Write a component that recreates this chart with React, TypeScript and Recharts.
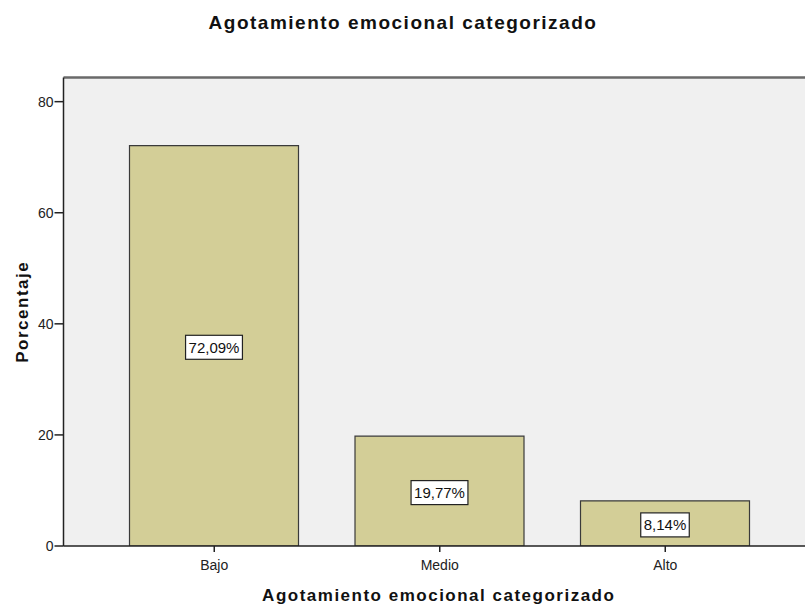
import React from 'react';
import { BarChart, Bar, XAxis, YAxis, CartesianGrid, LabelList, ReferenceLine } from 'recharts';

const chartTitle = 'Agotamiento emocional categorizado';
const xTitle = 'Agotamiento emocional categorizado';
const yTitle = 'Porcentaje';
const categories = ['Bajo', 'Medio', 'Alto'];
const percentages = [72.09, 19.77, 8.14];
const percentLabels = ['72,09%', '19,77%', '8,14%'];
const yTicks = [0, 20, 40, 60, 80];
const yMax = 84.35;

const data = categories.map((c, i) => ({ category: c, value: percentages[i], label: percentLabels[i] }));

const FONT = "Arial, 'Liberation Sans', sans-serif";

const charW = (ch: string) => {
  if (ch === ',') return 0.278;
  if (ch === '%') return 0.889;
  return 0.556;
};

const DataLabel = (props: any) => {
  const { x, y, width, height, value } = props;
  const cx = Number(x) + Number(width) / 2;
  const cy = Number(y) + Number(height) / 2 + 1.5;
  const fs = 15;
  const tw = String(value).split('').reduce((s, ch) => s + charW(ch) * fs, 0);
  const bw = tw + 6;
  const bh = 24;
  return (
    <g>
      <rect x={cx - bw / 2} y={cy - bh / 2} width={bw} height={bh} fill="#ffffff" stroke="#222" strokeWidth={1.2} />
      <text x={cx} y={cy + 5.5} textAnchor="middle" fontFamily={FONT} fontSize={fs} fill="#111">
        {value}
      </text>
    </g>
  );
};

const XTick = (props: any) => {
  const { x, y, payload } = props;
  return (
    <text x={x} y={y} dy={16} textAnchor="middle" fontFamily={FONT} fontSize={14} fill="#222">
      {payload.value}
    </text>
  );
};

const XLabel = (props: any) => {
  const vb = props.viewBox || { x: 63.5, width: 750.5, y: 546 };
  const cx = vb.x + vb.width / 2;
  return (
    <text x={cx} y={601} textAnchor="middle" fontFamily={FONT} fontSize={17} fontWeight="bold" letterSpacing={1.5} fill="#111">
      {xTitle}
    </text>
  );
};

const YLabel = (props: any) => {
  const vb = props.viewBox || { y: 77.5, height: 468.5 };
  const cy = vb.y + vb.height / 2;
  const bx = 28;
  return (
    <text x={bx} y={cy} transform={`rotate(-90, ${bx}, ${cy})`} textAnchor="middle" fontFamily={FONT} fontSize={17} fontWeight="bold" letterSpacing={1.5} fill="#111">
      {yTitle}
    </text>
  );
};

export default function App() {
  return (
    <div style={{ position: 'absolute', left: 0, top: 0, width: 805, height: 607, overflow: 'hidden', background: '#ffffff' }}>
      <div
        style={{
          position: 'absolute',
          left: 0,
          top: 13,
          width: 806,
          textAlign: 'center',
          fontFamily: FONT,
          fontSize: 19,
          lineHeight: '19px',
          fontWeight: 'bold',
          letterSpacing: 1.5,
          color: '#111',
        }}
      >
        {chartTitle}
      </div>
      <BarChart
        width={830}
        height={607}
        data={data}
        margin={{ top: 77.5, right: 16, bottom: 0, left: 0 }}
      >
        <CartesianGrid fill="#F0F0F0" stroke="none" horizontal={false} vertical={false} />
        <XAxis
          dataKey="category"
          height={61}
          padding={{ left: 38, right: 36 }}
          tickSize={6}
          tick={<XTick />}
          axisLine={{ stroke: '#222', strokeWidth: 1.5 }}
          tickLine={{ stroke: '#222', strokeWidth: 1.5 }}
          label={<XLabel />}
        />
        <YAxis
          width={63.5}
          domain={[0, yMax]}
          ticks={yTicks}
          allowDataOverflow
          tickSize={9}
          tickMargin={1}
          tick={{ fill: '#222', fontSize: 14, fontFamily: FONT }}
          axisLine={{ stroke: '#222', strokeWidth: 1.5 }}
          tickLine={{ stroke: '#222', strokeWidth: 1.5 }}
          label={<YLabel />}
        />
        <ReferenceLine y={yMax} stroke="#6a6a6a" strokeWidth={2.5} />
        <Bar dataKey="value" fill="#D3CE97" stroke="#3a3a3a" strokeWidth={1.2} barSize={169} isAnimationActive={false}>
          <LabelList dataKey="label" content={<DataLabel />} />
        </Bar>
      </BarChart>
    </div>
  );
}
